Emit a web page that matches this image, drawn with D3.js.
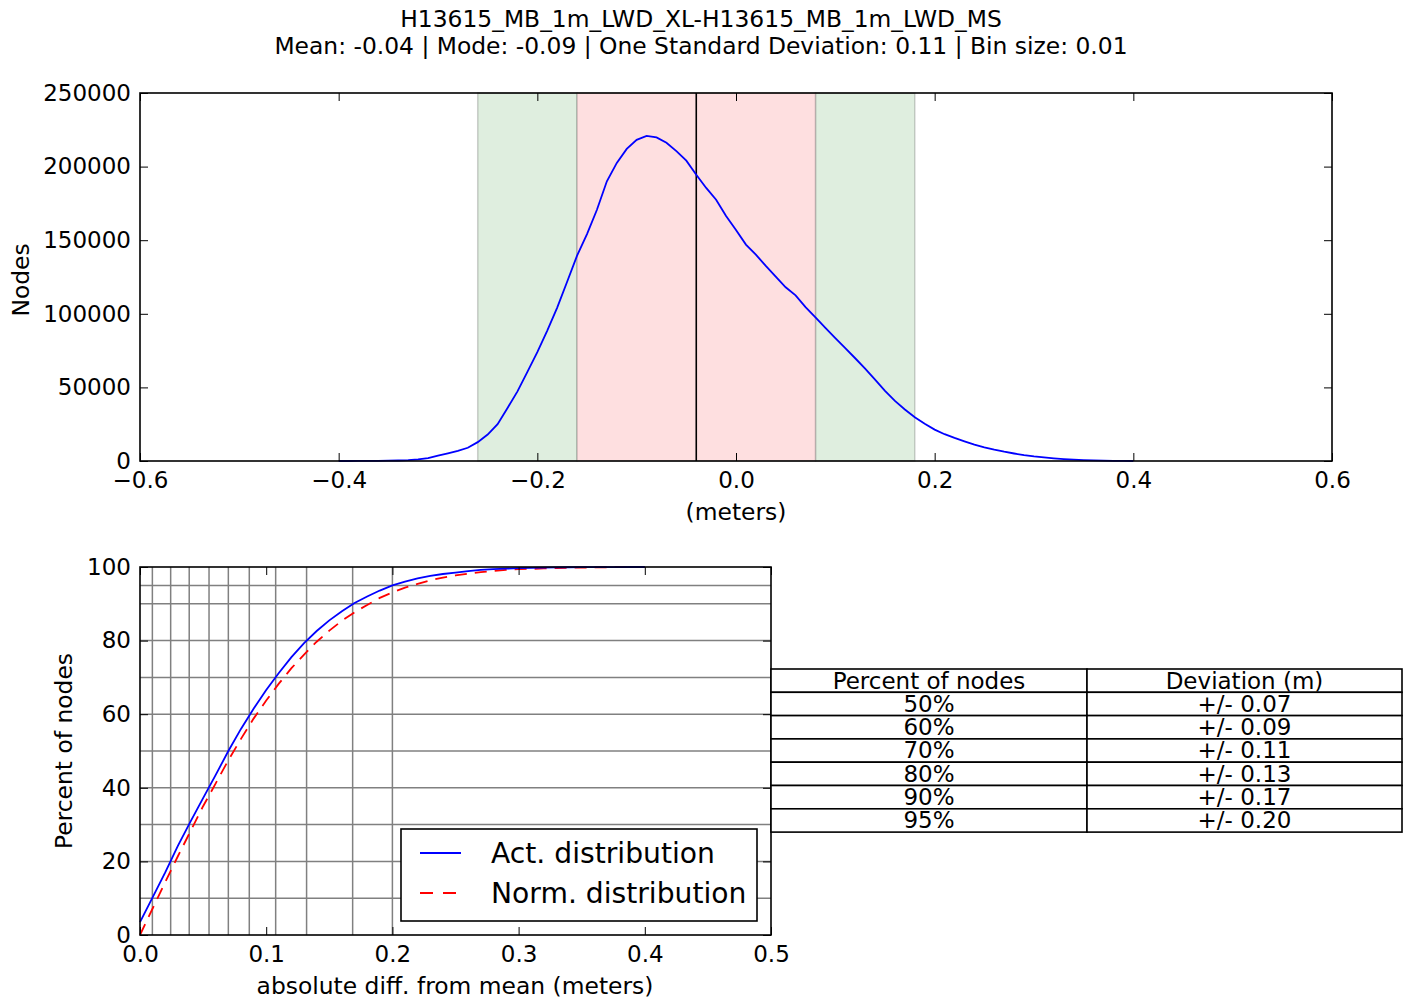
<!DOCTYPE html>
<html>
<head>
<meta charset="utf-8">
<script src="https://cdn.jsdelivr.net/npm/d3@7"></script>
<style>
  body { margin: 0; background: #fff; }
  svg { display: block; font-family: "DejaVu Sans", sans-serif; }
</style>
</head>
<body>
<svg id="chart" width="1414" height="1003"></svg>
<script>
/* ---------- data ---------- */
const titleLines = [
  "H13615_MB_1m_LWD_XL-H13615_MB_1m_LWD_MS",
  "Mean: -0.04 | Mode: -0.09 | One Standard Deviation: 0.11 | Bin size: 0.01",
];

// histogram of differences (bin size 0.01)
const histBins = [
  -0.40, -0.39, -0.38, -0.37, -0.36, -0.35, -0.34, -0.33, -0.32, -0.31,
  -0.30, -0.29, -0.28, -0.27, -0.26, -0.25, -0.24, -0.23, -0.22, -0.21,
  -0.20, -0.19, -0.18, -0.17, -0.16, -0.15, -0.14, -0.13, -0.12, -0.11,
  -0.10, -0.09, -0.08, -0.07, -0.06, -0.05, -0.04, -0.03, -0.02, -0.01,
  0.00, 0.01, 0.02, 0.03, 0.04, 0.05, 0.06, 0.07, 0.08, 0.09,
  0.10, 0.11, 0.12, 0.13, 0.14, 0.15, 0.16, 0.17, 0.18, 0.19,
  0.20, 0.21, 0.22, 0.23, 0.24, 0.25, 0.26, 0.27, 0.28, 0.29,
  0.30, 0.31, 0.32, 0.33, 0.34, 0.35, 0.36, 0.37, 0.38, 0.39, 0.40,
];
const histNodes = [
  0, 0, 30, 60, 120, 200, 350, 600, 1100, 2000,
  3600, 5200, 6900, 9000, 12800, 18000, 25000, 36000, 47300, 60500,
  73900, 88600, 104200, 121800, 139500, 154200, 170700, 190000, 202500, 212000,
  218200, 220800, 219800, 216200, 210500, 204000, 194500, 185500, 177500, 166500,
  157000, 147000, 140200, 132500, 125200, 118000, 112500, 104500, 97500, 90500,
  83500, 76600, 69800, 62800, 55300, 47700, 40800, 35000, 29700, 25300,
  21300, 18200, 15700, 13400, 11200, 9300, 7700, 6300, 5100, 4000,
  3100, 2400, 1800, 1300, 900, 600, 400, 250, 150, 50, 0,
];
const meanValue = -0.04;
const innerBand = [-0.16, 0.08];
const outerBandLeft = [-0.26, -0.16];
const outerBandRight = [0.08, 0.18];
const histXTicks = [-0.6, -0.4, -0.2, 0.0, 0.2, 0.4, 0.6];
const histYTicks = [0, 50000, 100000, 150000, 200000, 250000];

// cumulative curves
const cumDiff = [
  0.00, 0.01, 0.02, 0.03, 0.04, 0.05, 0.06, 0.07, 0.08, 0.09,
  0.10, 0.11, 0.12, 0.13, 0.14, 0.15, 0.16, 0.17, 0.18, 0.19,
  0.20, 0.21, 0.22, 0.23, 0.24, 0.25, 0.26, 0.27, 0.28, 0.29,
  0.30, 0.31, 0.32, 0.33, 0.34, 0.35, 0.36, 0.37, 0.38, 0.39, 0.40,
];
const actPercent = [
  3.5, 10.2, 17.0, 24.2, 30.8, 37.2, 43.5, 50.0, 56.0, 61.5,
  66.6, 71.2, 75.5, 79.3, 82.6, 85.5, 88.0, 90.2, 92.0, 93.6,
  95.0, 96.0, 96.9, 97.6, 98.1, 98.5, 98.9, 99.2, 99.4, 99.55,
  99.7, 99.78, 99.85, 99.9, 99.93, 99.95, 99.97, 99.98, 99.99, 100, 100,
];
const normPercent = [
  0.0, 7.2, 14.4, 21.4, 28.2, 35.0, 41.2, 47.5, 53.3, 58.8,
  63.7, 68.3, 72.5, 76.2, 79.7, 82.7, 85.4, 87.7, 89.7, 91.6,
  93.1, 94.4, 95.4, 96.4, 97.1, 97.7, 98.2, 98.6, 98.9, 99.2,
  99.4, 99.5, 99.6, 99.7, 99.8, 99.85, 99.9, 99.93, 99.95, 99.97, 99.98,
];
const gridPercent = [10, 20, 30, 40, 50, 60, 70, 80, 90, 95];
const gridDev = [0.0098, 0.0243, 0.039, 0.0547, 0.070, 0.0866, 0.1075, 0.132, 0.1685, 0.200];
const cumXTicks = [0.0, 0.1, 0.2, 0.3, 0.4, 0.5];
const cumYTicks = [0, 20, 40, 60, 80, 100];
const legendLabels = ["Act. distribution", "Norm. distribution"];

// table
const tableHeader = ["Percent of nodes", "Deviation (m)"];
const tablePercents = ["50%", "60%", "70%", "80%", "90%", "95%"];
const tableDeviations = ["+/- 0.07", "+/- 0.09", "+/- 0.11", "+/- 0.13", "+/- 0.17", "+/- 0.20"];

/* ---------- setup ---------- */
const svg = d3.select("#chart");
const fs = 23;      // tick labels, table
const fsLab = 23.4; // titles, axis labels

svg.selectAll("text.title")
  .data(titleLines)
  .join("text")
  .attr("class", "title")
  .attr("x", 701)
  .attr("y", (d, i) => 27 + i * 27)
  .attr("text-anchor", "middle")
  .style("font-size", fsLab + "px")
  .text((d) => d);

function frameAxes(g, x, y, xTicks, yTicks, xFmt, yFmt, w, h) {
  const tick = 8;
  g.append("g")
    .attr("transform", `translate(0,${h})`)
    .call(d3.axisBottom(x).tickValues(xTicks).tickFormat(xFmt).tickSize(-tick).tickPadding(11));
  g.append("g")
    .call(d3.axisTop(x).tickValues(xTicks).tickFormat("").tickSize(-tick));
  g.append("g")
    .call(d3.axisLeft(y).tickValues(yTicks).tickFormat(yFmt).tickSize(-tick).tickPadding(9));
  g.append("g")
    .attr("transform", `translate(${w},0)`)
    .call(d3.axisRight(y).tickValues(yTicks).tickFormat("").tickSize(-tick));
  g.selectAll(".domain").remove();
  g.selectAll(".tick line").attr("stroke", "#000").attr("stroke-width", 1);
  g.selectAll(".tick text")
    .attr("fill", "#000")
    .style("font-size", fs + "px")
    .style("font-family", "DejaVu Sans");
  g.append("rect")
    .attr("width", w)
    .attr("height", h)
    .attr("fill", "none")
    .attr("stroke", "#000")
    .attr("stroke-width", 1.6);
}

/* ---------- upper panel: histogram ---------- */
const histBox = { left: 140, top: 93, w: 1192, h: 368 };
const gt = svg.append("g").attr("transform", `translate(${histBox.left},${histBox.top})`);
const xh = d3.scaleLinear().domain([-0.6, 0.6]).range([0, histBox.w]);
const yh = d3.scaleLinear().domain([0, 250000]).range([histBox.h, 0]);

gt.selectAll("rect.band")
  .data([
    { r: outerBandLeft, fill: "#dfeedf" },
    { r: outerBandRight, fill: "#dfeedf" },
    { r: innerBand, fill: "#fedfe0" },
  ])
  .join("rect")
  .attr("class", "band")
  .attr("x", (d) => xh(d.r[0]))
  .attr("width", (d) => xh(d.r[1]) - xh(d.r[0]))
  .attr("y", 0)
  .attr("height", histBox.h)
  .attr("fill", (d) => d.fill)
  .attr("stroke", "rgba(0,0,0,0.18)")
  .attr("stroke-width", 1.5);

gt.append("line")
  .attr("x1", xh(meanValue))
  .attr("x2", xh(meanValue))
  .attr("y1", 0)
  .attr("y2", histBox.h)
  .attr("stroke", "#000")
  .attr("stroke-width", 1.6);

const histLine = d3.line()
  .x((d, i) => xh(histBins[i]))
  .y((d) => yh(d));
gt.append("path")
  .datum(histNodes)
  .attr("d", histLine)
  .attr("fill", "none")
  .attr("stroke", "#0000ff")
  .attr("stroke-width", 1.8);

frameAxes(gt, xh, yh, histXTicks, histYTicks, d3.format(".1f"), d3.format("d"), histBox.w, histBox.h);

gt.append("text")
  .attr("x", histBox.w / 2)
  .attr("y", 520 - histBox.top)
  .attr("text-anchor", "middle")
  .style("font-size", fsLab + "px")
  .text("(meters)");
gt.append("text")
  .attr("transform", `translate(${29 - histBox.left},${histBox.h / 2 + 3}) rotate(-90)`)
  .attr("text-anchor", "middle")
  .style("font-size", fsLab + "px")
  .text("Nodes");

/* ---------- lower panel: cumulative ---------- */
const cumBox = { left: 140, top: 567, w: 631, h: 368 };
const gb = svg.append("g").attr("transform", `translate(${cumBox.left},${cumBox.top})`);
const xc = d3.scaleLinear().domain([0, 0.5]).range([0, cumBox.w]);
const yc = d3.scaleLinear().domain([0, 100]).range([cumBox.h, 0]);

gb.selectAll("line.hgrid")
  .data(gridPercent)
  .join("line")
  .attr("class", "hgrid")
  .attr("x1", 0)
  .attr("x2", cumBox.w)
  .attr("y1", (d) => yc(d))
  .attr("y2", (d) => yc(d))
  .attr("stroke", "#808080")
  .attr("stroke-width", 1.5);
gb.selectAll("line.vgrid")
  .data(gridDev)
  .join("line")
  .attr("class", "vgrid")
  .attr("x1", (d) => xc(d))
  .attr("x2", (d) => xc(d))
  .attr("y1", 0)
  .attr("y2", cumBox.h)
  .attr("stroke", "#808080")
  .attr("stroke-width", 1.5);

const cumLine = (vals) =>
  d3.line().x((d, i) => xc(cumDiff[i])).y((d) => yc(d))(vals);
gb.append("path")
  .attr("d", cumLine(normPercent))
  .attr("fill", "none")
  .attr("stroke", "#ff0000")
  .attr("stroke-width", 1.8)
  .attr("stroke-dasharray", "12,8");
gb.append("path")
  .attr("d", cumLine(actPercent))
  .attr("fill", "none")
  .attr("stroke", "#0000ff")
  .attr("stroke-width", 1.8);

frameAxes(gb, xc, yc, cumXTicks, cumYTicks, d3.format(".1f"), d3.format("d"), cumBox.w, cumBox.h);

gb.append("text")
  .attr("x", 455 - cumBox.left)
  .attr("y", 994 - cumBox.top)
  .attr("text-anchor", "middle")
  .style("font-size", fsLab + "px")
  .text("absolute diff. from mean (meters)");
gb.append("text")
  .attr("transform", `translate(${72 - cumBox.left},${cumBox.h / 2}) rotate(-90)`)
  .attr("text-anchor", "middle")
  .style("font-size", fsLab + "px")
  .text("Percent of nodes");

/* legend */
const lg = svg.append("g").attr("transform", "translate(401,829)");
lg.append("rect")
  .attr("width", 356)
  .attr("height", 92)
  .attr("fill", "#fff")
  .attr("stroke", "#000")
  .attr("stroke-width", 1.6);
const items = lg.selectAll("g.item")
  .data(legendLabels)
  .join("g")
  .attr("class", "item")
  .attr("transform", (d, i) => `translate(0,${24 + i * 40})`);
items.append("line")
  .attr("x1", 19)
  .attr("x2", 60)
  .attr("stroke", (d, i) => (i ? "#ff0000" : "#0000ff"))
  .attr("stroke-width", 1.8)
  .attr("stroke-dasharray", (d, i) => (i ? "13,10" : null));
items.append("text")
  .attr("x", 90)
  .attr("y", 10)
  .style("font-size", "28.2px")
  .text((d) => d);

/* ---------- table ---------- */
const tbl = { left: 771, top: 669, colW: [316, 315], rowH: 23.3 };
const rows = [tableHeader].concat(tablePercents.map((p, i) => [p, tableDeviations[i]]));
const gtab = svg.append("g").attr("transform", `translate(${tbl.left},${tbl.top})`);
const rowG = gtab.selectAll("g.row")
  .data(rows)
  .join("g")
  .attr("class", "row")
  .attr("transform", (d, i) => `translate(0,${i * tbl.rowH})`);
rowG.selectAll("rect")
  .data((d) => d)
  .join("rect")
  .attr("x", (d, j) => (j ? tbl.colW[0] : 0))
  .attr("width", (d, j) => tbl.colW[j])
  .attr("height", tbl.rowH)
  .attr("fill", "#fff")
  .attr("stroke", "#000")
  .attr("stroke-width", 1.6);
rowG.selectAll("text")
  .data((d) => d)
  .join("text")
  .attr("x", (d, j) => (j ? tbl.colW[0] + tbl.colW[1] / 2 : tbl.colW[0] / 2))
  .attr("y", 19.5)
  .attr("text-anchor", "middle")
  .style("font-size", fs + "px")
  .text((d) => d);
</script>
</body>
</html>
